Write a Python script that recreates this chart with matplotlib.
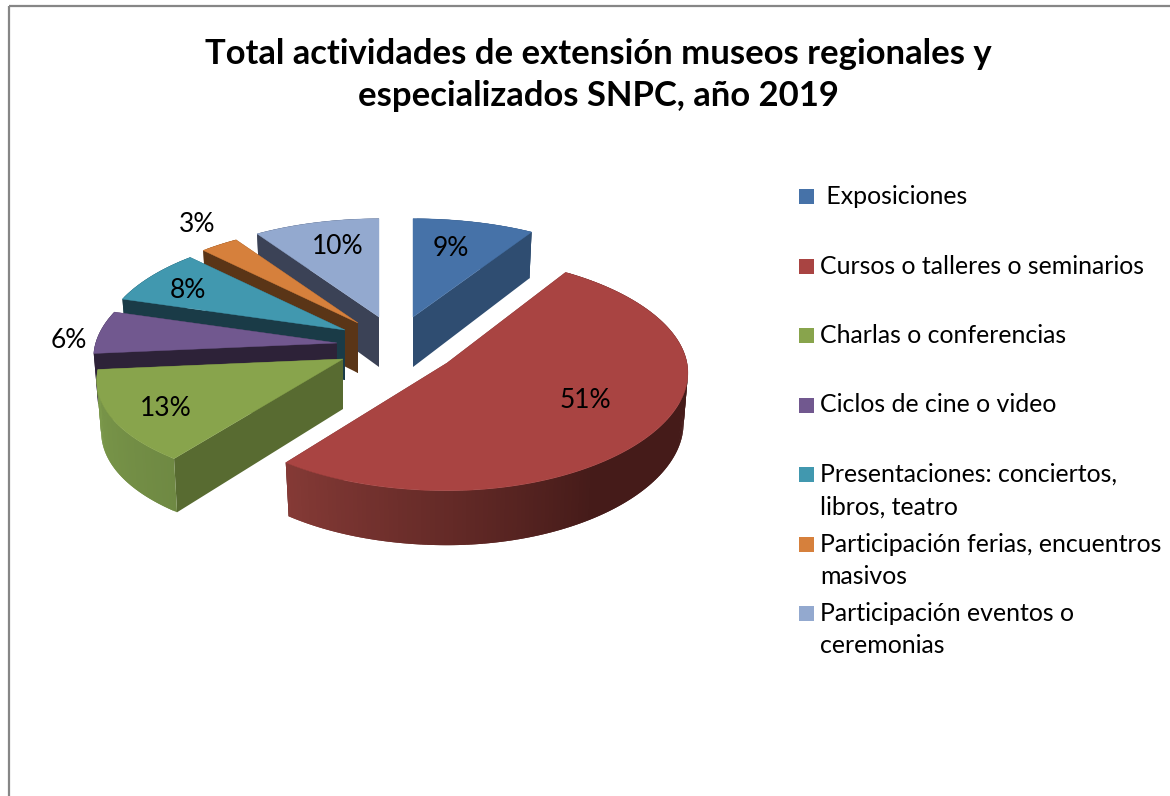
import numpy as np
import matplotlib
matplotlib.use("Agg")
import matplotlib.pyplot as plt
from matplotlib.patches import Polygon, Rectangle
from matplotlib.colors import to_rgb

# --- data ---
categories = [" Exposiciones", "Cursos o talleres o seminarios", "Charlas o conferencias",
              "Ciclos de cine o video", "Presentaciones: conciertos,\nlibros, teatro",
              "Participación ferias, encuentros\nmasivos", "Participación eventos o\nceremonias"]
percentages = [9, 51, 13, 6, 8, 3, 10]
pct_labels = ["9%", "51%", "13%", "6%", "8%", "3%", "10%"]
title_text = "Total actividades de extensión museos regionales y\nespecializados SNPC, año 2019"

# --- style ---
top_colors = ["#4672a8", "#a94442", "#88a44c", "#71588f", "#4198af", "#d6803c", "#93a9cf"]
face_colors = ["#2f4d71", "#451b19", "#586b31", "#2d2238", "#1a3b47", "#5a3517", "#3b4256"]
wall_start = ["#2f4d71", "#451b19", "#6f8943", "#2d2238", "#1a3b47", "#5a3517", "#3b4256"]
wall_end = ["#2f4d71", "#853a36", "#7c9a4b", "#2d2238", "#1a3b47", "#5a3517", "#3b4256"]
# explosion: apex of each slice in pixels
apex_x = [413, 447, 343, 337, 345, 358, 379]
apex_y = [317, 363, 359, 343, 330, 323, 317]
label_x = [451, 585, 166, 69, 188, 197, 338]
label_y = [248, 400, 409, 340, 291, 225, 247]
draw_order = [6, 5, 4, 3, 2, 0, 1]
wedge_skew = [0.09, 0.09, 0.22, 0.09, 0.09, 0.09, 0.09]
wedge_lift = [0, 8, 0, 0, 0, 0, 0]
RX, RY, PERSP, DEPTH = 240, 113, 0.13, 50
TAPER = 0.018
FONT = "Lato"


def rim(theta, skew, lift):
    s = 1 - PERSP * np.cos(theta)
    sn, cs = np.sin(theta), np.cos(theta)
    y = -RY * s * cs
    x = RX * s * sn - skew * y * np.abs(sn)
    y = y - 4 * np.where(sn < 0, sn ** 2, 0) - lift * np.clip(cs, 0, None) ** 2
    return x, y


def depth(theta):
    return DEPTH * (1 - 0.09 * np.cos(theta))


fig = plt.figure(figsize=(11.70, 7.96), dpi=100)
ax = fig.add_axes([0, 0, 1, 1])
ax.set_xlim(0, 1170)
ax.set_ylim(796, 0)
ax.axis("off")

# chart frame
ax.plot([9, 9], [796, 5.5], color="#868686", lw=1.6, solid_capstyle="butt")
ax.plot([9, 1170], [5.5, 5.5], color="#868686", lw=1.6, solid_capstyle="butt")

edges = np.cumsum([0] + percentages) / sum(percentages) * 2 * np.pi

for i in draw_order:
    t0, t1 = edges[i], edges[i + 1]
    cx, cy = apex_x[i], apex_y[i]
    th = np.linspace(t0, t1, max(int((t1 - t0) * 60), 8))
    rx, ry = rim(th, wedge_skew[i], wedge_lift[i])
    px, py = cx + rx, cy + ry
    bx, by = cx + rx * (1 - TAPER), py + depth(th)
    # cut faces
    for j in (0, -1):
        ax.add_patch(Polygon([(cx, cy), (px[j], py[j]), (bx[j], by[j]), (cx, cy + DEPTH)],
                             closed=True, fc=face_colors[i], ec="none"))
    # outer wall with gradient; each strip overlaps the next so no seams show
    c0, c1 = np.array(to_rgb(wall_start[i])), np.array(to_rgb(wall_end[i]))
    for k in range(len(th) - 1):
        mid = (th[k] + th[k + 1]) / 2
        f = np.clip((mid - t0) / max(t1 - t0, 1e-6), 0, 1)
        if i == 1:  # the large slice stays dark until it turns towards the viewer's left
            f = np.clip((mid - np.radians(145)) / np.radians(71), 0, 1)
        col = c0 + (c1 - c0) * f
        e = min(k + 3, len(th))
        ax.add_patch(Polygon(np.column_stack([np.r_[px[k:e], bx[k:e][::-1]],
                                              np.r_[py[k:e], by[k:e][::-1]]]),
                             closed=True, fc=col, ec="none"))
    # top surface
    ax.add_patch(Polygon(np.column_stack([np.r_[cx, px], np.r_[cy, py]]),
                         closed=True, fc=top_colors[i], ec=top_colors[i], lw=0.3))

for lab, x, y in zip(pct_labels, label_x, label_y):
    ax.text(x, y, lab, ha="center", va="center", fontsize=19, family=FONT, color="black")

ax.text(598, 75, title_text, ha="center", va="center", fontsize=24.9, fontweight="bold",
        family=FONT, color="black", linespacing=1.4)

# legend
LEG_X, LEG_Y0, LEG_STEP, BOX = 799, 189, 69.5, 15
for i, (cat, col) in enumerate(zip(categories, top_colors)):
    y = LEG_Y0 + i * LEG_STEP
    ax.add_patch(Rectangle((LEG_X, y), BOX, BOX, fc=col, ec="none"))
    ax.text(820, y - 4, cat, ha="left", va="top", fontsize=17.9, family=FONT,
            color="black", linespacing=1.48)

fig.savefig("out.png", dpi=100, facecolor="white")
